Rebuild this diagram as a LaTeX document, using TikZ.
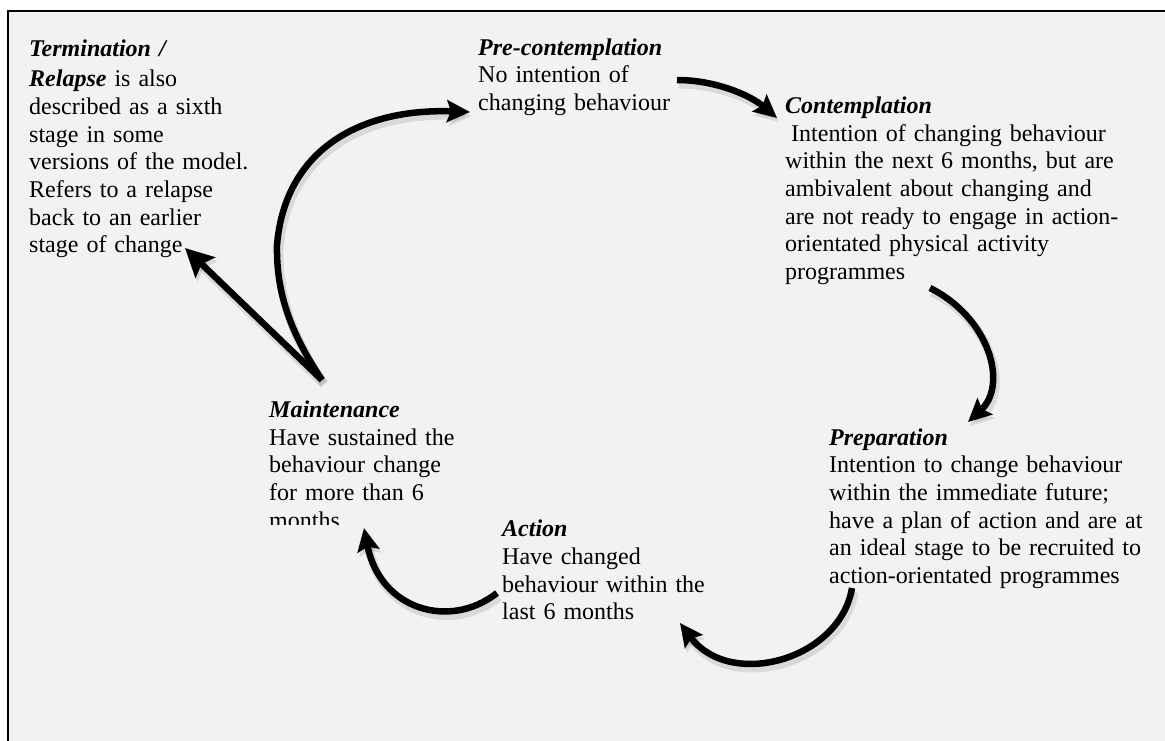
\documentclass[tikz,border=0pt]{standalone}
\usepackage{fontspec}
\setmainfont{Liberation Serif}
\usetikzlibrary{arrows.meta}
\definecolor{panel}{HTML}{F2F2F2}

\newcommand\stagehead[1]{\textbf{\textit{#1}}}

\tikzset{
  stagetext/.style={anchor=base west, inner sep=0pt, text width=420pt, align=left,
    font=\fontsize{24}{27.7}\selectfont},
  cyclearrow/.style={line width=6.5pt,
    -{Stealth[length=23pt,width=22pt,inset=4pt]},
    preaction={draw, black, opacity=0.10, line width=9pt,
      transform canvas={shift={(2,4)}}}},
  bigarrow/.style={cyclearrow, -{Stealth[length=28pt,width=28pt,inset=5pt]}},
}

\begin{document}
\begin{tikzpicture}[x=1pt,y=-1pt]
  \useasboundingbox (0,0) rectangle (1165,740);
  \clip (0,0) rectangle (1165,740);
  \fill[white] (0,0) rectangle (1165,740);
  \draw[line width=2pt, fill=panel] (8,11) rectangle (1180,760);

  % stage descriptions
  \node[stagetext] (term) at (29,56.5) {\stagehead{Termination /}\\[2.5pt]
    \stagehead{Relapse} is also\\ described as a sixth\\ stage in some\\
    versions of the model.\\ Refers to a relapse\\ back to an earlier\\ stage of change};
  \node[stagetext] (pre) at (478,55) {\stagehead{Pre-contemplation}\\ No intention of\\ changing behaviour};
  \node[stagetext] (con) at (785,113.3) {\stagehead{Contemplation}\\
    \hspace*{6pt}Intention of changing behaviour\\ within the next 6 months, but are\\
    ambivalent about changing and\\ are not ready to engage in action-\\
    orientated physical activity\\ programmes};
  \node[stagetext] (prep) at (829,445) {\stagehead{Preparation}\\ Intention to change behaviour\\
    within the immediate future;\\ have a plan of action and are at\\
    an ideal stage to be recruited to\\ action-orientated programmes};
  \begin{scope}
    % the last line of this block is cut off at the bottom
    \clip (0,0) rectangle (1165,524);
    \node[stagetext] (maint) at (269,417.3) {\stagehead{Maintenance}\\ Have sustained the\\
      behaviour change\\ for more than 6\\ months};
  \end{scope}
  \node[stagetext] (act) at (502,536.7) {\stagehead{Action}\\ Have changed\\
    behaviour within the\\ last 6 months};

  % connector end points
  \coordinate (m-out) at (322,380);
  \coordinate (m-arc) at (277,245);
  \coordinate (p-in)  at (470,112);
  \coordinate (t-in)  at (185,248);
  \coordinate (p-out) at (677,80);
  \coordinate (c-in)  at (777,118);
  \coordinate (c-out) at (930,288);
  \coordinate (r-in)  at (968,422);
  \coordinate (r-out) at (852,588);
  \coordinate (a-in)  at (680,623);
  \coordinate (a-out) at (497,593);
  \coordinate (m-in)  at (364,528);

  % the cycle
  \draw[cyclearrow] (m-out) .. controls (292,335) and (276,295) .. (m-arc)
    .. controls (285,150) and (360,108) .. (p-in);
  \draw[bigarrow] (m-out) -- (t-in);
  \draw[cyclearrow] (p-out) .. controls (715,80) and (750,95) .. (c-in);
  \draw[cyclearrow] (c-out) .. controls (990,318) and (1008,385) .. (r-in);
  \draw[cyclearrow] (r-out) .. controls (840,660) and (730,690) .. (a-in);
  \draw[cyclearrow] (a-out) .. controls (450,630) and (380,610) .. (m-in);
\end{tikzpicture}
\end{document}
